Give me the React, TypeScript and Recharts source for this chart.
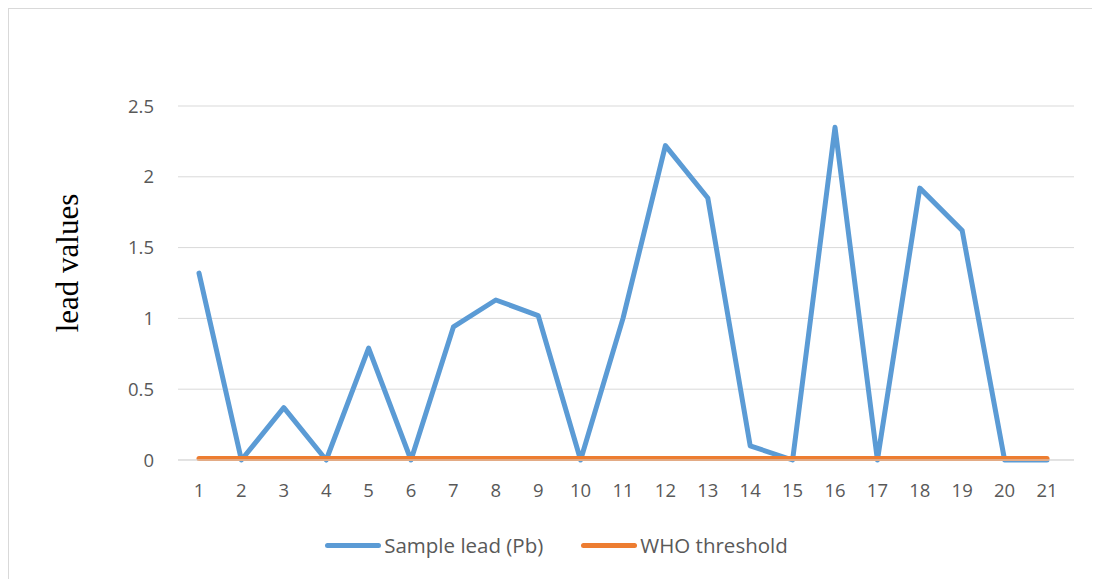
import React from 'react';
import { LineChart, Line, XAxis, YAxis, CartesianGrid, Legend } from 'recharts';

const samples = ['1', '2', '3', '4', '5', '6', '7', '8', '9', '10', '11', '12', '13', '14', '15', '16', '17', '18', '19', '20', '21'];
const leadValues = [1.32, 0, 0.37, 0, 0.79, 0, 0.94, 1.13, 1.02, 0, 1.0, 2.22, 1.85, 0.1, 0, 2.35, 0, 1.92, 1.62, 0, 0];
const whoThreshold = [0.01, 0.01, 0.01, 0.01, 0.01, 0.01, 0.01, 0.01, 0.01, 0.01, 0.01, 0.01, 0.01, 0.01, 0.01, 0.01, 0.01, 0.01, 0.01, 0.01, 0.01];
const yTicks = [0, 0.5, 1, 1.5, 2, 2.5];

const BLUE = '#5B9BD5';
const ORANGE = '#ED7D31';
const FONT = "'Open Sans', 'Noto Sans', sans-serif";

const data = samples.map((s, i) => ({
  sample: s,
  lead: leadValues[i],
  who: whoThreshold[i],
}));

const LegendContent = (props: any) => {
  const items = props.payload || [];
  return (
    <div style={{ display: 'flex', justifyContent: 'center', alignItems: 'center', height: 24, paddingLeft: 30 }}>
      {items.map((it: any, i: number) => (
        <div key={i} style={{ display: 'flex', alignItems: 'center', marginRight: i === 0 ? 38 : 0 }}>
          <div style={{ width: 56, height: 5, borderRadius: 3, background: it.color, marginRight: 3 }} />
          <span style={{ fontFamily: FONT, fontSize: 20.5, color: '#595959' }}>{it.value}</span>
        </div>
      ))}
    </div>
  );
};

const YLabel = (props: any) => {
  const vb = props.viewBox;
  const cx = vb.x + 58;
  const cy = vb.y + vb.height / 2 - 20;
  return (
    <text
      x={cx}
      y={cy}
      transform={`rotate(-90, ${cx}, ${cy})`}
      textAnchor="middle"
      dominantBaseline="central"
      style={{ fontFamily: "'Liberation Serif', 'DejaVu Serif', serif", fontSize: 31, fill: '#000' }}
    >
      lead values
    </text>
  );
};

export default function App() {
  return (
    <div style={{ width: 1100, height: 580, border: '1px solid #d9d9d9', boxSizing: 'border-box', background: '#fff' }}>
      <LineChart width={1090} height={569} data={data} margin={{ top: 97, right: 25, bottom: 21, left: 0 }}>
        <CartesianGrid vertical={false} stroke="#d9d9d9" />
        <XAxis
          dataKey="sample"
          height={73}
          padding={{ left: 21, right: 27 }}
          tickLine={false}
          axisLine={{ stroke: '#d9d9d9' }}
          tickMargin={18}
          interval={0}
          tick={{ fontFamily: FONT, fontSize: 18.5, fill: '#595959' }}
        />
        <YAxis
          width={169}
          domain={[0, 2.5]}
          ticks={yTicks}
          tickLine={false}
          axisLine={false}
          tickMargin={18}
          tick={{ fontFamily: FONT, fontSize: 18.5, fill: '#595959' }}
          label={<YLabel />}
        />
        <Legend verticalAlign="bottom" content={<LegendContent />} />
        <Line
          type="linear"
          dataKey="lead"
          name="Sample lead (Pb)"
          stroke={BLUE}
          strokeWidth={5}
          strokeLinecap="round"
          strokeLinejoin="round"
          dot={false}
          activeDot={false}
          isAnimationActive={false}
        />
        <Line
          type="linear"
          dataKey="who"
          name="WHO threshold"
          stroke={ORANGE}
          strokeWidth={5}
          strokeLinecap="round"
          strokeLinejoin="round"
          dot={false}
          activeDot={false}
          isAnimationActive={false}
        />
      </LineChart>
    </div>
  );
}
